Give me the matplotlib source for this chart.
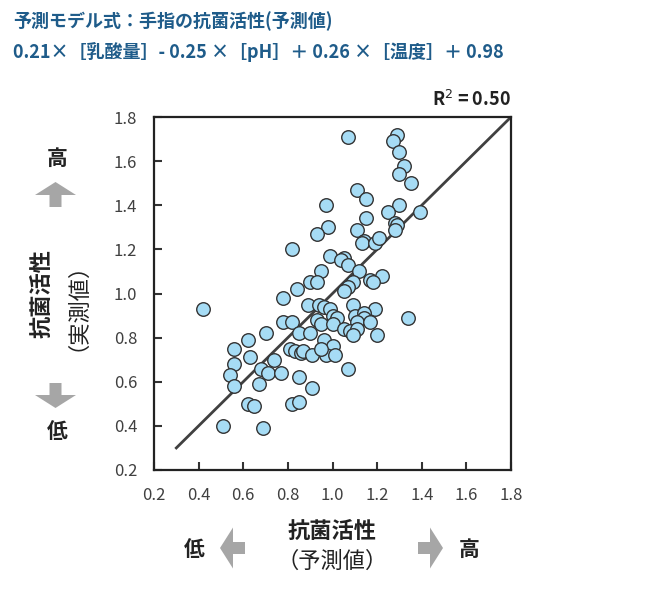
import matplotlib.pyplot as plt
import matplotlib.patches as mpatches

plt.rcParams['font.family'] = ['Noto Sans CJK JP', 'DejaVu Sans']

pred = [1.07, 1.29, 1.27, 1.30, 1.32, 1.30, 1.35, 1.11, 1.15, 0.97, 1.30, 1.39,
        1.25, 1.15, 0.98, 1.28, 1.29, 1.28, 0.93, 1.11, 1.14, 1.13, 1.19, 1.21,
        0.82, 0.99, 1.05, 1.04, 1.07, 0.95, 1.12, 1.22, 1.17, 1.18, 0.90, 0.93,
        0.84, 1.09, 1.07, 1.05, 0.78, 0.42, 0.89, 0.94, 0.96, 0.99, 1.09, 1.19,
        1.34, 1.00, 1.02, 1.10, 1.14, 1.14, 1.11, 1.17, 0.78, 0.82, 0.93, 0.95,
        1.00, 1.05, 1.08, 1.11, 1.09, 1.20, 0.85, 0.90, 0.70, 0.62, 0.96, 1.00,
        0.56, 0.81, 0.83, 0.86, 0.87, 0.91, 0.97, 1.01, 0.95, 0.63, 0.74, 0.56,
        0.68, 0.71, 0.77, 1.07, 0.54, 0.85, 0.56, 0.67, 0.91, 0.62, 0.65, 0.82,
        0.85, 0.51, 0.69]
meas = [1.71, 1.72, 1.69, 1.64, 1.58, 1.54, 1.50, 1.47, 1.43, 1.40, 1.40, 1.37,
        1.37, 1.34, 1.30, 1.32, 1.31, 1.29, 1.27, 1.29, 1.24, 1.23, 1.23, 1.25,
        1.20, 1.17, 1.16, 1.15, 1.13, 1.10, 1.10, 1.08, 1.06, 1.05, 1.05, 1.05,
        1.02, 1.05, 1.03, 1.01, 0.98, 0.93, 0.95, 0.95, 0.94, 0.93, 0.95, 0.93,
        0.89, 0.90, 0.89, 0.90, 0.91, 0.89, 0.87, 0.87, 0.87, 0.87, 0.88, 0.86,
        0.86, 0.84, 0.83, 0.84, 0.81, 0.81, 0.82, 0.82, 0.82, 0.79, 0.79, 0.76,
        0.75, 0.75, 0.74, 0.73, 0.74, 0.72, 0.72, 0.72, 0.75, 0.71, 0.70, 0.68,
        0.66, 0.64, 0.64, 0.66, 0.63, 0.62, 0.58, 0.59, 0.57, 0.50, 0.49, 0.50,
        0.51, 0.40, 0.39]
fit_x = [0.3, 1.8]
fit_y = [0.3, 1.8]
ticks = [0.2, 0.4, 0.6, 0.8, 1.0, 1.2, 1.4, 1.6, 1.8]

W, H = 650, 592
fig = plt.figure(figsize=(W / 100, H / 100), dpi=100)
ax = fig.add_axes([154 / W, 1 - 470 / H, 357 / W, 353 / H])


def fp(x, y):
    # pixel position (from top-left) -> figure fraction
    return x / W, 1 - y / H


ax.plot(fit_x, fit_y, color='#404040', lw=2, zorder=2)
ax.scatter(pred, meas, s=95, c='#A6DCF5', edgecolors='#333333', linewidths=1.0, zorder=3)

ax.set_xlim(0.2, 1.8)
ax.set_ylim(0.2, 1.8)
ax.set_xticks(ticks)
ax.set_yticks(ticks)
ax.set_xticklabels([f'{t:.1f}' for t in ticks])
ax.set_yticklabels([f'{t:.1f}' for t in ticks])
ax.tick_params(direction='in', length=6, width=1.5, labelsize=12,
               labelcolor='#404040', color='#333333', pad=12)
for sp in ax.spines.values():
    sp.set_linewidth(1.6)
    sp.set_color('#222222')

ax.text(1.0, 1.02, 'R$^2$ = 0.50', transform=ax.transAxes, ha='right', va='bottom',
        fontsize=13, fontweight='bold', color='#222222')

blue = '#1F5C8A'
fig.text(*fp(13, 21), '予測モデル式：手指の抗菌活性(予測値)', fontsize=13,
         fontweight='bold', color=blue, va='center', ha='left')
fig.text(*fp(13, 52), '0.21×［乳酸量］- 0.25 ×［pH］＋ 0.26 ×［温度］＋ 0.98',
         fontsize=13, fontweight='bold', color=blue, va='center', ha='left')

dark = '#222222'
# x axis label and arrows
fig.text(*fp(332, 531), '抗菌活性', fontsize=16, fontweight='bold', color=dark,
         ha='center', va='center')
fig.text(*fp(332, 561), '（予測値）', fontsize=16, color=dark, ha='center', va='center')
fig.text(*fp(194, 549), '低', fontsize=15, fontweight='bold', color=dark, ha='center', va='center')
fig.text(*fp(469, 549), '高', fontsize=15, fontweight='bold', color=dark, ha='center', va='center')

# y axis label and arrows
fig.text(*fp(42, 293), '抗菌活性', fontsize=16, fontweight='bold', color=dark,
         ha='center', va='center', rotation=90)
fig.text(*fp(66, 295), '（実測値）', fontsize=16, color=dark,
         ha='center', va='center', rotation=90)
fig.text(*fp(57, 158), '高', fontsize=15, fontweight='bold', color=dark, ha='center', va='center')
fig.text(*fp(57, 432), '低', fontsize=15, fontweight='bold', color=dark, ha='center', va='center')

grey = '#A6A6A6'
arrows = [
    (55.5, 207, 0, -25),   # up
    (55.5, 383, 0, 25),    # down
    (245, 548, -25, 0),    # left
    (418, 548, 25, 0),     # right
]
for x0, y0, dx, dy in arrows:
    fig.patches.append(mpatches.FancyArrow(
        x0 / 100, (H - y0) / 100, dx / 100, -dy / 100,
        width=0.12, head_width=0.41, head_length=0.13,
        length_includes_head=True, color=grey, lw=0,
        transform=fig.dpi_scale_trans, figure=fig))

fig.savefig('out.png', dpi=100)
